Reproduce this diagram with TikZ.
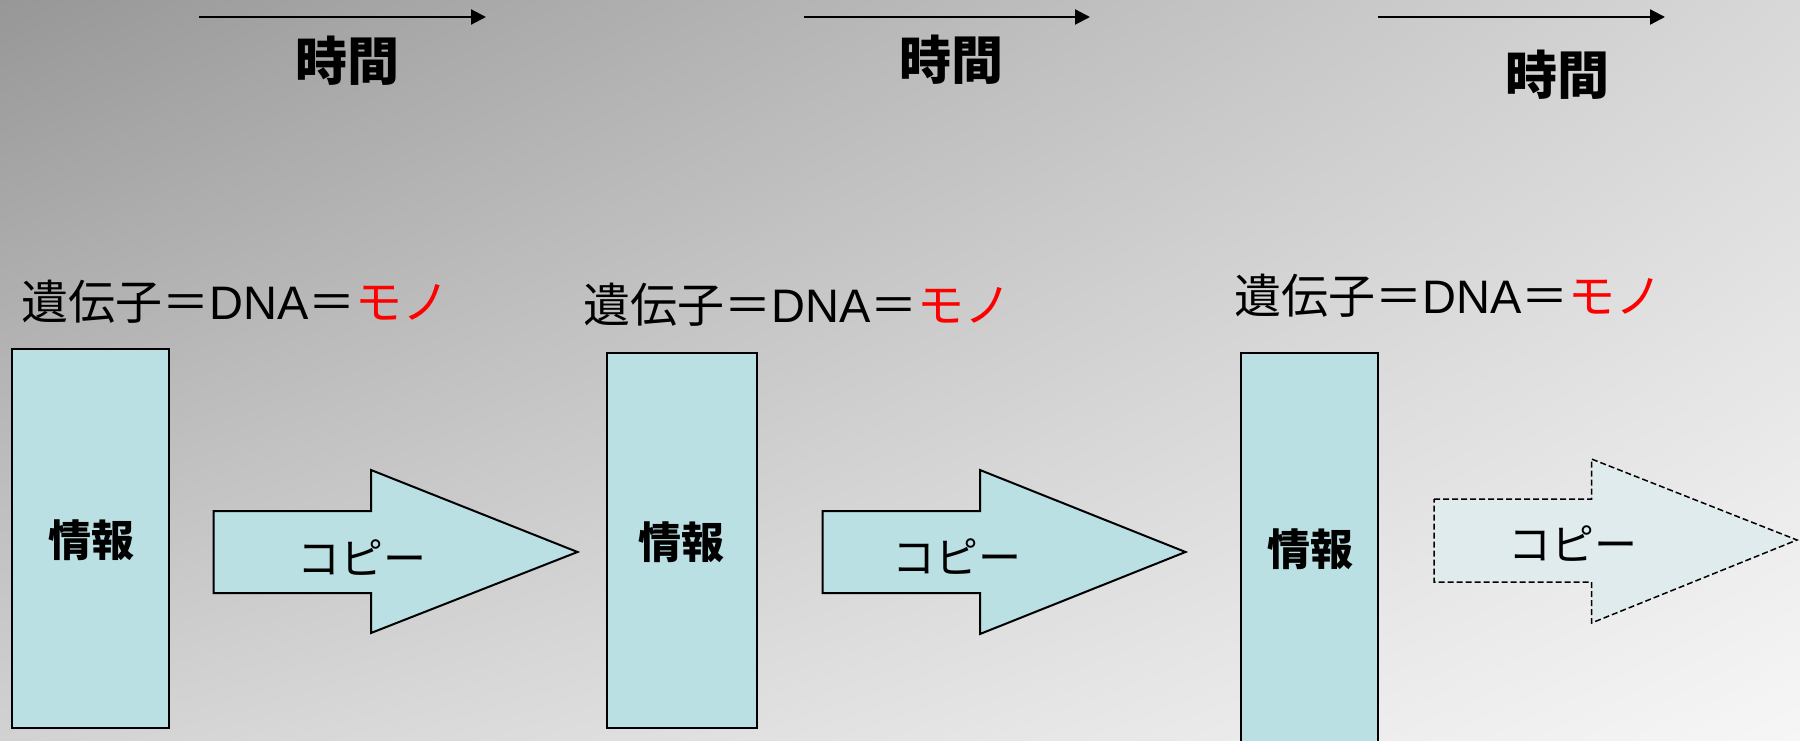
\documentclass[tikz,border=0pt]{standalone}
\usepackage{fontspec}
\newfontfamily\jp{Noto Sans CJK JP}
\newfontfamily\lat{Liberation Sans}
\usetikzlibrary{arrows.meta,shadings}
\definecolor{bgUL}{HTML}{979797}
\definecolor{bgUR}{HTML}{D8D8D8}
\definecolor{bgLL}{HTML}{D2D2D2}
\definecolor{bgLR}{HTML}{F6F6F6}
\definecolor{boxfill}{HTML}{BAE0E3}
\definecolor{ghostfill}{HTML}{DFEBEC}
\definecolor{monored}{HTML}{FF0000}
\begin{document}
\begin{tikzpicture}[x=1pt,y=-1pt,
  infobox/.style={draw=black,line width=2pt,fill=boxfill},
  copyarrow/.style={draw=black,line width=2pt,fill=boxfill,line join=miter},
  ghostarrow/.style={draw=black,line width=1.5pt,dash pattern=on 6pt off 3pt,fill=ghostfill,line join=miter},
  timearrow/.style={line width=2.2pt,-{Triangle[length=15pt,width=15pt]}},
  timelabel/.style={font=\jp\bfseries\fontsize{52}{52}\selectfont,inner sep=0pt},
  genelabel/.style={font=\jp\fontsize{47}{47}\selectfont,inner sep=0pt,anchor=base west},
  infolabel/.style={font=\jp\bfseries\fontsize{43}{43}\selectfont,inner sep=0pt},
  copylabel/.style={font=\jp\fontsize{43}{43}\selectfont,inner sep=0pt}]
\useasboundingbox (0,0) rectangle (1800,741);
\clip (0,0) rectangle (1800,741);
\shade[upper left=bgUL,upper right=bgUR,lower left=bgLL,lower right=bgLR] (0,0) rectangle (1800,741);

% time arrows
\coordinate (t1s) at (199,17); \coordinate (t1e) at (486,17);
\coordinate (t2s) at (804,17); \coordinate (t2e) at (1090,17);
\coordinate (t3s) at (1378,17); \coordinate (t3e) at (1665,17);
\draw[timearrow] (t1s) -- (t1e);
\draw[timearrow] (t2s) -- (t2e);
\draw[timearrow] (t3s) -- (t3e);
\node[timelabel] (time1) at (347,61) {時間};
\node[timelabel] (time2) at (951,60) {時間};
\node[timelabel] (time3) at (1557,75) {時間};

% gene labels
\node[genelabel] (gene1) at (21,319) {遺伝子＝{\lat DNA}＝{\color{monored}モノ}};
\node[genelabel] (gene2) at (583,322) {遺伝子＝{\lat DNA}＝{\color{monored}モノ}};
\node[genelabel] (gene3) at (1234,313) {遺伝子＝{\lat DNA}＝{\color{monored}モノ}};

% info boxes
\draw[infobox] (11.5,349) rectangle (169,728);
\draw[infobox] (607,353) rectangle (757,728);
\draw[infobox] (1241,353) rectangle (1378,760);
\node[infolabel] (info1) at (91,540) {情報};
\node[infolabel] (info2) at (681.5,542) {情報};
\node[infolabel] (info3) at (1310,549) {情報};

% copy arrows
\draw[copyarrow] (213.5,511) -- (371,511) -- (371,470) -- (577.5,552) -- (371,633) -- (371,593) -- (213.5,593) -- cycle;
\draw[copyarrow] (822.5,511) -- (980,511) -- (980,470) -- (1185.5,552) -- (980,634) -- (980,593) -- (822.5,593) -- cycle;
\draw[ghostarrow] (1434,499) -- (1591.5,499) -- (1591.5,459) -- (1797,540) -- (1591.5,623) -- (1591.5,582) -- (1434,582) -- cycle;
\node[copylabel] (copy1) at (361.5,558) {コピー};
\node[copylabel] (copy2) at (957,557) {コピー};
\node[copylabel] (copy3) at (1573,544) {コピー};
\end{tikzpicture}
\end{document}
